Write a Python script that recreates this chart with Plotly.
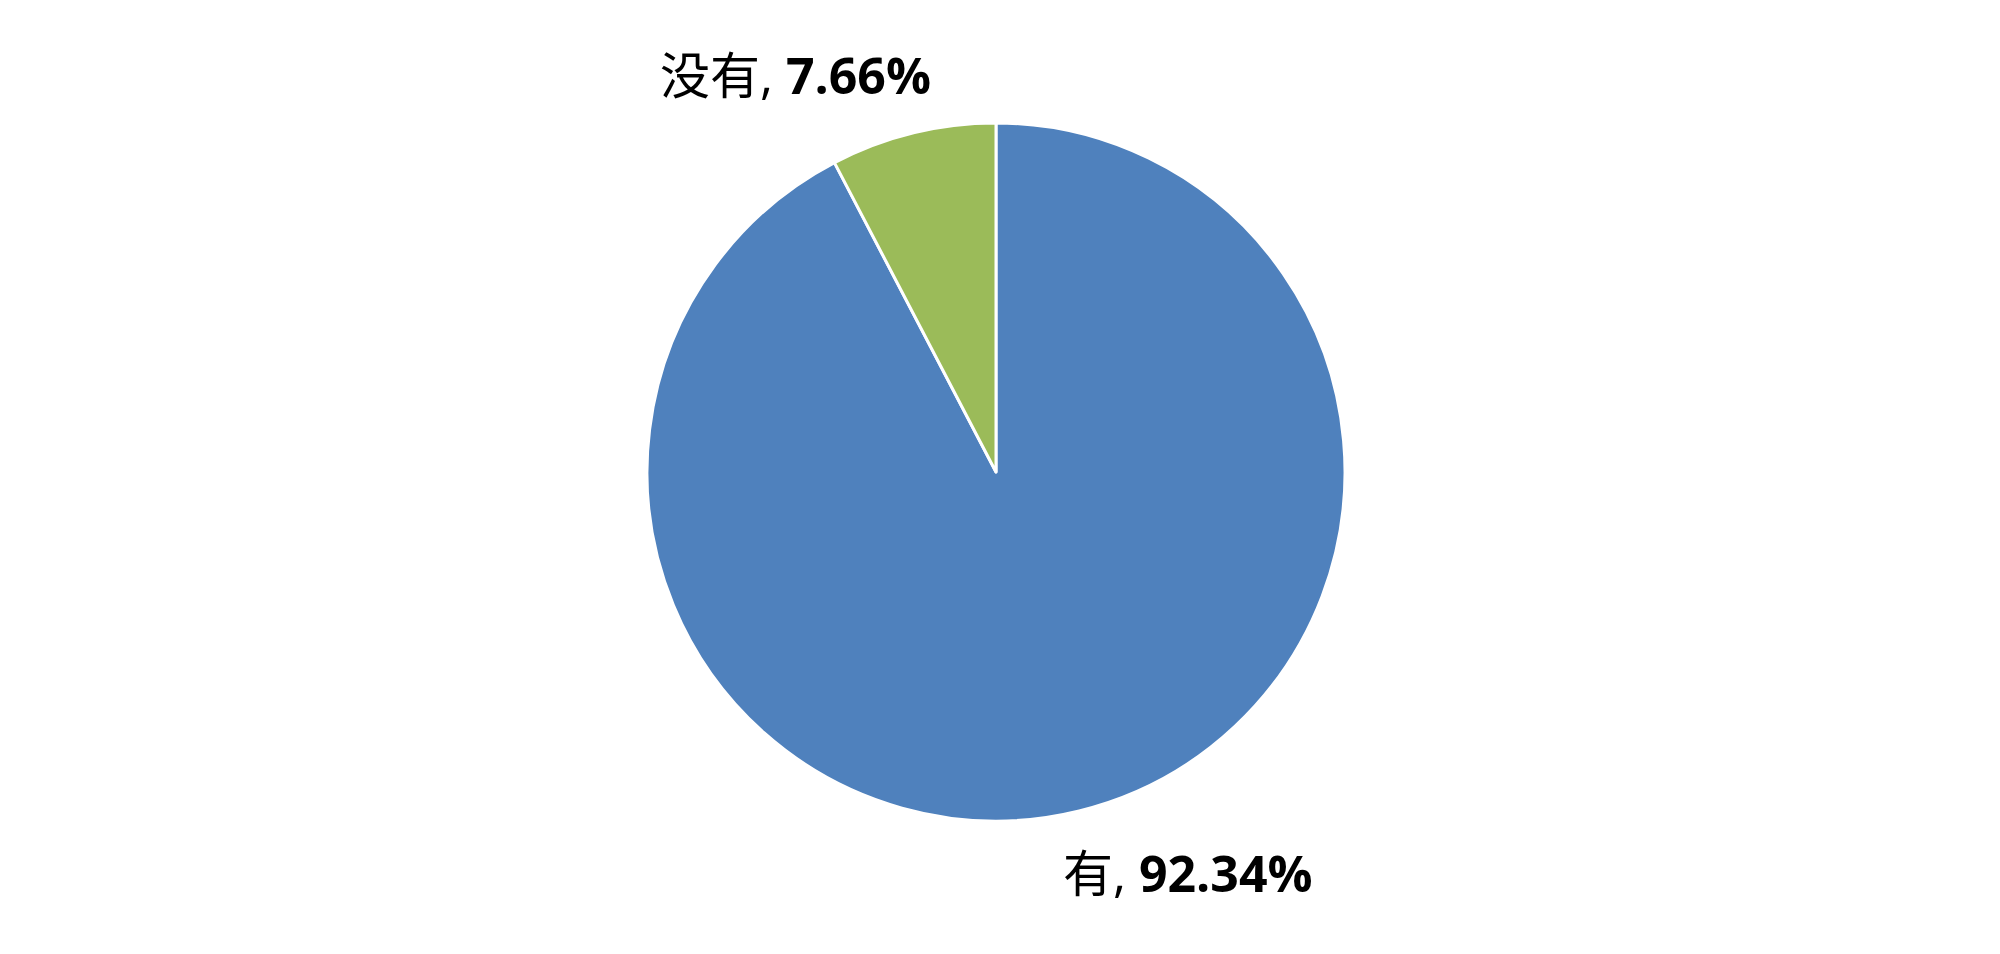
import plotly.graph_objects as go

labels = ["有", "没有"]
values = [92.34, 7.66]
colors = ["#4F81BD", "#9BBB59"]

# label anchor points (paper coords), one per slice
label_x = [0.5898, 0.3938]
label_y = [0.0933, 0.9298]

fig = go.Figure(
    go.Pie(
        labels=labels,
        values=values,
        sort=False,
        direction="clockwise",
        rotation=0,
        marker=dict(colors=colors, line=dict(color="white", width=3)),
        textinfo="none",
        hoverinfo="label+percent",
        domain=dict(x=[0.3195, 0.6685], y=[0.1478, 0.8795]),
        showlegend=False,
    )
)

for lab, val, x, y in zip(labels, values, label_x, label_y):
    fig.add_annotation(
        x=x,
        y=y,
        xref="paper",
        yref="paper",
        text=f"{lab}, <b>{val:.2f}%</b>",
        showarrow=False,
        font=dict(family="Open Sans, Noto Sans CJK SC", size=50, color="black"),
        xanchor="center",
        yanchor="middle",
    )

fig.update_layout(
    width=2000,
    height=954,
    margin=dict(l=0, r=0, t=0, b=0),
    paper_bgcolor="white",
    plot_bgcolor="white",
)

fig.write_html("out.html")
